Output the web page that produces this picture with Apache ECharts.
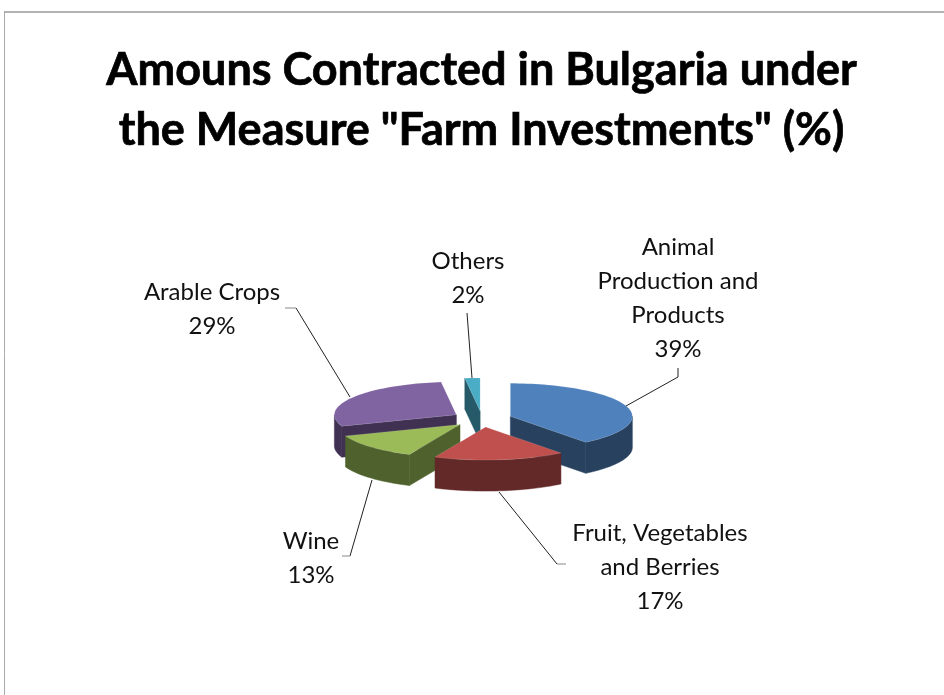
<!DOCTYPE html>
<html><head><meta charset="utf-8">
<style>html,body{margin:0;padding:0;background:#fff}#c{width:944px;height:695px}</style>
<script src="https://cdn.jsdelivr.net/npm/echarts@6/dist/echarts.min.js"></script>
</head><body><div id="c"></div>
<script>
const titleText = 'Amouns Contracted in Bulgaria under\nthe Measure "Farm Investments" (%)';
const categories = ['Animal\nProduction and\nProducts', 'Fruit, Vegetables\nand Berries', 'Wine', 'Arable Crops', 'Others'];
const shares = [39.4, 17.4, 12.6, 28.6, 2];
const topColors = ['#4F81BD', '#C0504D', '#9BBB59', '#8064A2', '#4BACC6'];
const wallColors = ['#27415F', '#632828', '#4F622D', '#403152', '#265A68'];
const paintRank = [2, 4, 3, 1, 0];
const labelCenters = [[678, 298], [660, 567], [311, 558], [212, 309], [468, 278]];
const leaders = [
  [[678, 368], [678, 377], [626, 406]],
  [[557, 564], [499, 492]],
  [[350, 556], [372, 480]],
  [[296, 308], [350, 397]],
  [[467, 313], [472, 378]]
];
const leaderTicks = [
  [[566, 564], [557, 564]],
  [[342, 556], [350, 556]],
  [[285, 308], [296, 308]]
];
const pie = { cx: 482, cy: 419, rx: 122, ry: 33, depth: 31, explode: 30 };

const chart = echarts.init(document.getElementById('c'), null, { renderer: 'canvas' });
const total = shares.reduce((a, b) => a + b, 0);
const rad = d => d * Math.PI / 180;
let acc = 0;
const spans = shares.map(v => { const s = acc; acc += v / total * 360; return [s, acc]; });

function renderItem(params, api) {
  const i = api.value(1);
  const [a0, a1] = spans[i];
  const mid = rad((a0 + a1) / 2);
  const ax = pie.cx + pie.explode * Math.sin(mid);
  const ay = pie.cy - pie.explode * Math.cos(mid) * pie.ry / pie.rx;
  const pt = d => [ax + pie.rx * Math.sin(rad(d)), ay - pie.ry * Math.cos(rad(d))];
  const down = p => [p[0], p[1] + pie.depth];
  const arc = (from, to) => {
    const n = Math.max(2, Math.ceil((to - from) / 2));
    const out = [];
    for (let k = 0; k <= n; k++) out.push(pt(from + (to - from) * k / n));
    return out;
  };
  const z = paintRank[i] * 10;
  const kids = [];
  const wall = { fill: wallColors[i], stroke: wallColors[i], lineWidth: 0.5 };
  const apex = [ax, ay];
  const face = d => ({
    type: 'polygon', z2: z + 1,
    shape: { points: [apex, pt(d), down(pt(d)), down(apex)] }, style: wall
  });
  if (Math.sin(rad(a0)) < -1e-6) kids.push(face(a0));
  if (Math.sin(rad(a1)) > 1e-6) kids.push(face(a1));
  const f0 = Math.max(a0, 90), f1 = Math.min(a1, 270);
  if (f1 > f0) {
    const o = arc(f0, f1);
    kids.push({
      type: 'polygon', z2: z + 2,
      shape: { points: o.concat(o.map(down).reverse()) }, style: wall
    });
  }
  kids.push({
    type: 'polygon', z2: z + 3,
    shape: { points: [apex].concat(arc(a0, a1)) },
    style: { fill: topColors[i], stroke: 'rgba(255,255,255,0.2)', lineWidth: 0.6 }
  });
  return { type: 'group', children: kids };
}

const labelGraphics = categories.map((c, i) => ({
  type: 'text', x: labelCenters[i][0], y: labelCenters[i][1], z: 5,
  style: {
    text: c + '\n' + Math.round(shares[i]) + '%',
    font: '24px Lato', lineHeight: 34, align: 'center', verticalAlign: 'middle', fill: '#111'
  }
}));
const leaderGraphics = leaders.map(p => ({
  type: 'polyline', z: 6, shape: { points: p },
  style: { stroke: '#222', lineWidth: 1, fill: null }
}));
const tickGraphics = leaderTicks.map(p => ({
  type: 'polyline', z: 6, shape: { points: p },
  style: { stroke: '#888', lineWidth: 1, fill: null }
}));
const frame = [
  { type: 'polyline', z: 1, shape: { points: [[4.5, 695], [4.5, 12]] }, style: { stroke: '#aaa', lineWidth: 1, fill: null } },
  { type: 'polyline', z: 1, shape: { points: [[4, 12], [944, 12]] }, style: { stroke: '#999', lineWidth: 1.5, fill: null } }
];

chart.setOption({
  animation: false,
  backgroundColor: '#fff',
  title: {
    text: titleText, left: 476.5, top: 35, textAlign: 'center',
    textStyle: {
      fontFamily: 'Lato', fontWeight: 'bold', fontSize: 45, lineHeight: 60, color: '#000',
      textBorderColor: '#000', textBorderWidth: 0.7
    }
  },
  graphic: frame.concat(labelGraphics, leaderGraphics, tickGraphics),
  series: [{
    type: 'custom', coordinateSystem: 'none', renderItem,
    data: shares.map((v, i) => [v, i])
  }]
});
</script></body></html>
